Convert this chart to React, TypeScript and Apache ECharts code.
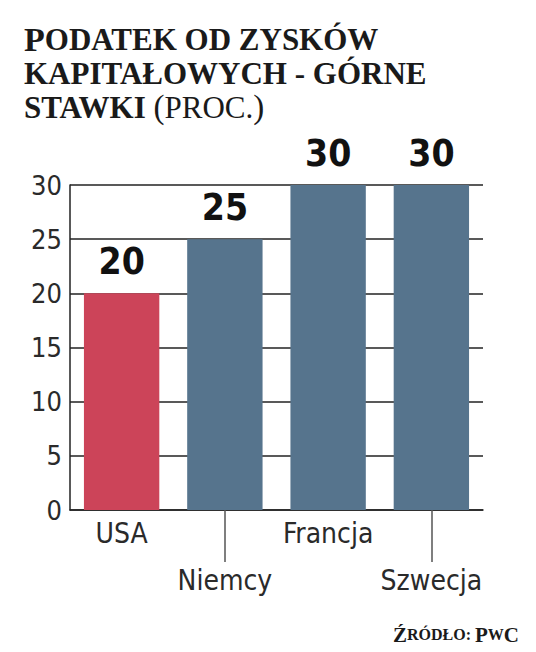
import React, { useEffect, useRef } from "react";
import * as echarts from "echarts";

const categories = ["USA", "Niemcy", "Francja", "Szwecja"];
const values = [20, 25, 30, 30];
const barColors = ["#CC4459", "#56748D", "#56748D", "#56748D"];
const yTicks = { min: 0, max: 30, interval: 5 };

const NARROW = '"DejaVu Sans Condensed", "Liberation Sans Narrow", "Liberation Sans", sans-serif';
const SLAB = '"Liberation Serif", serif';

export default function App() {
  const ref = useRef<HTMLDivElement>(null);
  useEffect(() => {
    const chart = echarts.init(ref.current!, null, { renderer: "svg" });
    chart.setOption({
      animation: false,
      backgroundColor: "#ffffff",
      title: [
        {
          left: 19,
          top: 17,
          text:
            "{big|P}{sm|ODATEK OD ZYSKÓW}\n{sm|KAPITAŁOWYCH - GÓRNE}\n{sm|STAWKI }{par|(}{reg|PROC.}{par|)}",
          textStyle: {
            rich: {
              big: { fontFamily: SLAB, fontWeight: "bold", fontSize: 34, color: "#1a1a1a", lineHeight: 34 },
              sm: { fontFamily: SLAB, fontWeight: "bold", fontSize: 31, color: "#1a1a1a", lineHeight: 34 },
              par: { fontFamily: SLAB, fontWeight: "normal", fontSize: 33, color: "#1a1a1a", lineHeight: 34 },
              reg: { fontFamily: SLAB, fontWeight: "normal", fontSize: 31, color: "#1a1a1a", lineHeight: 34 },
            },
          },
        },
        {
          right: 12,
          top: 619,
          text: "{big|Ź}{sm|RÓDŁO: }{big|P}{sm|W}{big|C}",
          textStyle: {
            rich: {
              big: { fontFamily: SLAB, fontWeight: "bold", fontSize: 21, color: "#1a1a1a" },
              sm: { fontFamily: SLAB, fontWeight: "bold", fontSize: 16, color: "#1a1a1a" },
            },
          },
        },
      ],
      grid: { left: 70, right: 53, top: 185, bottom: 142, containLabel: false },
      xAxis: {
        type: "category",
        data: categories,
        boundaryGap: true,
        axisLine: { show: true, lineStyle: { color: "#222", width: 1.5 } },
        axisTick: {
          show: true,
          alignWithLabel: true,
          interval: (i: number) => i % 2 === 1,
          length: 52,
          lineStyle: { color: "#555", width: 1.5 },
        },
        axisLabel: {
          interval: 0,
          margin: 0,
          fontFamily: NARROW,
          fontSize: 28,
          color: "#2a2a2a",
          lineHeight: 47,
          formatter: (v: string, i: number) => (i % 2 === 1 ? "\n" + v : v),
        },
      },
      yAxis: {
        type: "value",
        min: yTicks.min,
        max: yTicks.max,
        interval: yTicks.interval,
        axisLine: { show: true, lineStyle: { color: "#222", width: 1.5 } },
        axisTick: { show: false },
        splitLine: { show: true, lineStyle: { color: "#222", width: 1.5 } },
        axisLabel: {
          margin: 8,
          fontFamily: NARROW,
          fontSize: 27,
          color: "#2a2a2a",
          padding: [0, 0, 10, 0],
        },
      },
      series: [
        {
          type: "bar",
          data: values.map((v, i) => ({ value: v, itemStyle: { color: barColors[i] } })),
          barWidth: "73%",
          label: {
            show: true,
            position: "top",
            distance: 13,
            fontFamily: NARROW,
            fontWeight: "bold",
            fontSize: 37,
            color: "#111",
          },
        },
      ],
    });
    return () => chart.dispose();
  }, []);
  return <div ref={ref} style={{ width: 536, height: 652, margin: -8 }} />;
}
